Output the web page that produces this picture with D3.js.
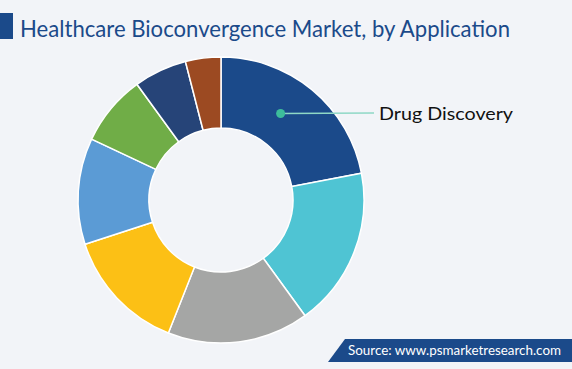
<!DOCTYPE html>
<html>
<head>
<meta charset="utf-8">
<script src="https://cdn.jsdelivr.net/npm/d3@7"></script>
<style>
  html, body { margin: 0; padding: 0; background: #f2f4f8; }
  svg { display: block; }
</style>
</head>
<body>
<script>
const w = 572
const h = 369

// data (share, %)
const categories = ['Drug Discovery', 'Regenerative Medicine', 'Diagnostics', 'Bioelectronics',
    'Biomedical Engineering', 'Nanorobotics', 'Optogenetics', 'Others']
const shares = [22, 18, 16, 14, 12, 8, 6, 4]
const colors = ['#1b4a8a', '#4fc4d3', '#a5a6a5', '#fcc015', '#5b9bd5', '#70ad47', '#264478', '#9c4a22']
const shownLabels = ['Drug Discovery']

const titleText = 'Healthcare Bioconvergence Market, by Application'
const sourceText = 'Source: www.psmarketresearch.com'

const cx = 221
const cy = 200
const outerR = 143
const innerR = 72

const svg = d3.select('body').append('svg')
    .attr('width', w)
    .attr('height', h)

svg.append('rect')
    .attr('width', w)
    .attr('height', h)
    .attr('fill', '#f2f4f8')

// title
svg.append('rect')
    .attr('x', 0).attr('y', 13)
    .attr('width', 13).attr('height', 26)
    .attr('fill', '#1b4a8a')

svg.append('text')
    .attr('x', 20).attr('y', 37)
    .attr('font-family', 'Lato, "Noto Sans", sans-serif')
    .attr('font-size', 24)
    .attr('fill', '#1b4a8a')
    .attr('textLength', 490)
    .attr('lengthAdjust', 'spacingAndGlyphs')
    .text(titleText)

// donut
const data = categories.map((c, i) => ({ name: c, value: shares[i], color: colors[i] }))

const pie = d3.pie()
    .value(d => d.value)
    .sort(null)

const arc = d3.arc()
    .innerRadius(innerR)
    .outerRadius(outerR)

const g = svg.append('g')
    .attr('transform', `translate(${cx},${cy})`)

const arcs = pie(data)

g.selectAll('path')
    .data(arcs)
    .enter()
    .append('path')
    .attr('d', arc)
    .attr('fill', d => d.data.color)
    .attr('stroke', '#ffffff')
    .attr('stroke-width', 1.5)

// label for the biggest slice
const labelArc = d3.arc().innerRadius(108).outerRadius(108)

arcs.filter(d => shownLabels.includes(d.data.name)).forEach(function (d) {
    const mid = (d.startAngle + d.endAngle) / 2 - 0.05
    const p = labelArc.centroid({ startAngle: mid, endAngle: mid })
    const x0 = p[0] - 5
    const y0 = p[1]
    g.append('line')
        .attr('x1', x0).attr('y1', y0)
        .attr('x2', 374 - cx).attr('y2', y0 - 0.5)
        .attr('stroke', '#8fd8c6')
        .attr('stroke-width', 1.5)
    g.append('circle')
        .attr('cx', x0).attr('cy', y0)
        .attr('r', 4.5)
        .attr('fill', '#3dbd9b')
    svg.append('text')
        .attr('x', 379).attr('y', cy + y0 + 6.5)
        .attr('font-family', 'Lato, "Noto Sans", sans-serif')
        .attr('font-size', 18)
        .attr('fill', '#111111')
        .attr('textLength', 134)
        .attr('lengthAdjust', 'spacingAndGlyphs')
        .text(d.data.name)
})

// source box
svg.append('path')
    .attr('d', `M328,362 L345,339 L${w},339 L${w},362 Z`)
    .attr('fill', '#1b4a8a')

svg.append('text')
    .attr('x', 348).attr('y', 355)
    .attr('font-family', 'Lato, "Noto Sans", sans-serif')
    .attr('font-size', 13)
    .attr('fill', '#ffffff')
    .attr('textLength', 213)
    .attr('lengthAdjust', 'spacingAndGlyphs')
    .text(sourceText)
</script>
</body>
</html>
